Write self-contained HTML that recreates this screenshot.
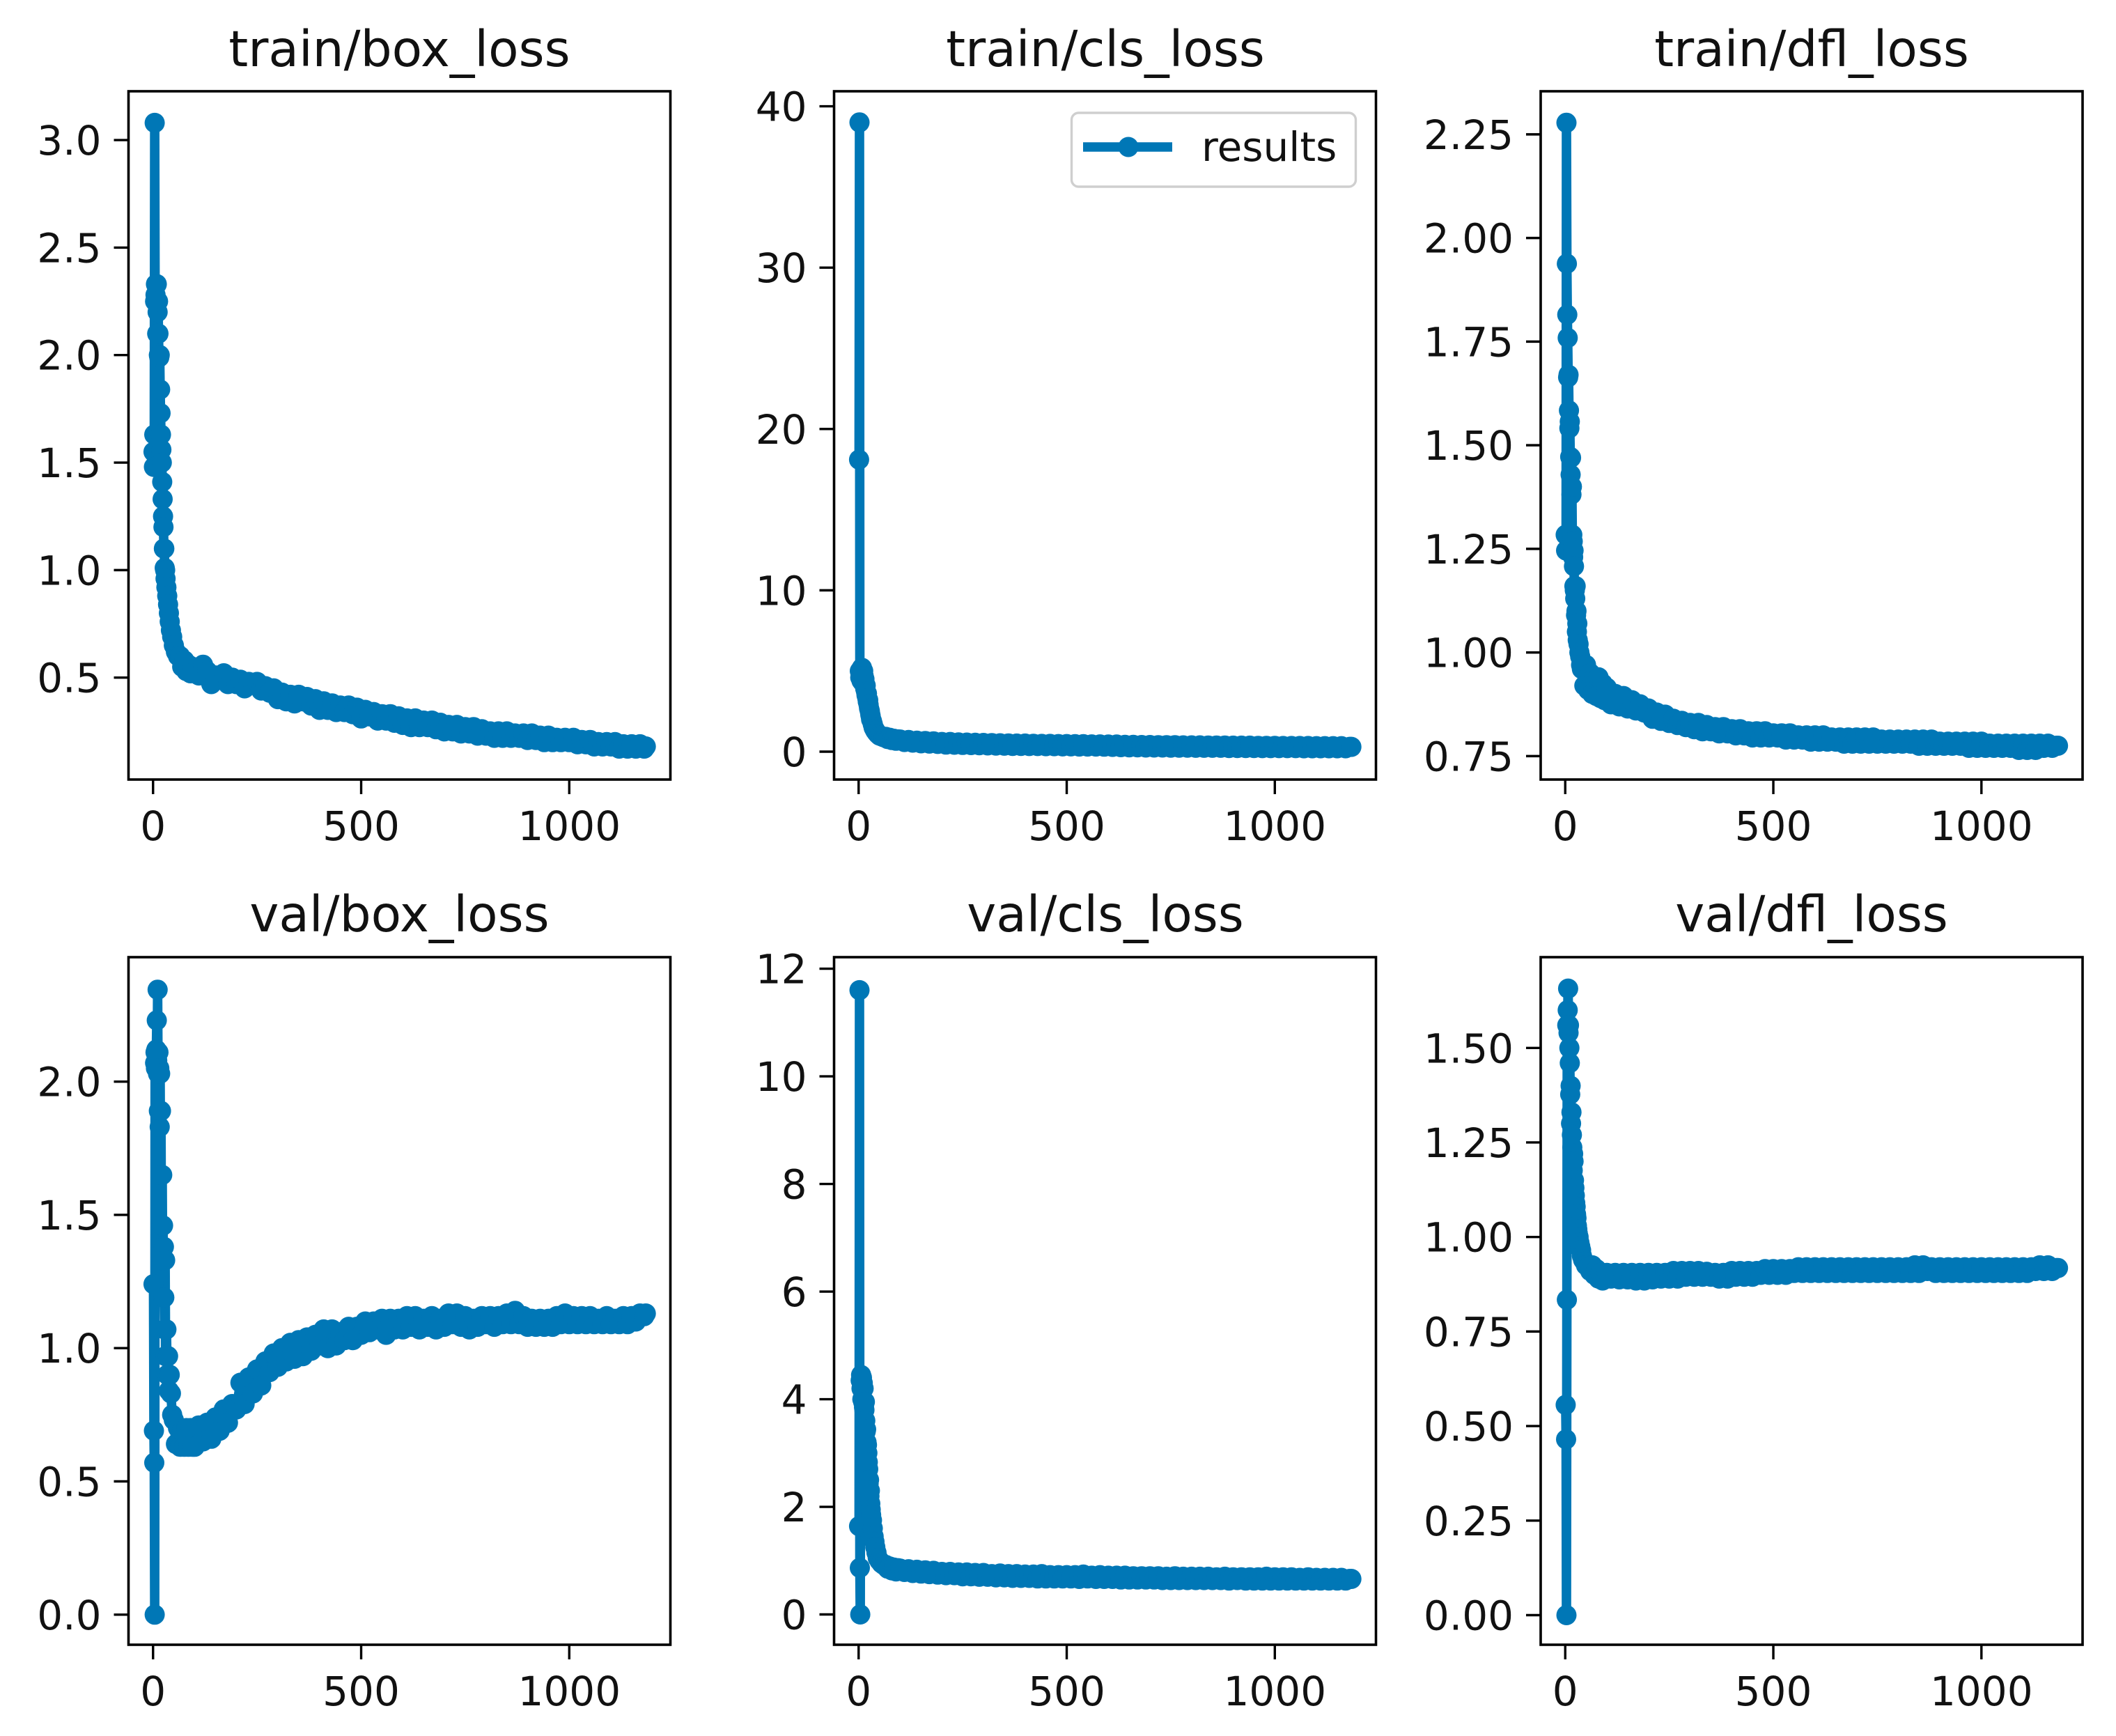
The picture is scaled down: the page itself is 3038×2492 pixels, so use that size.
<!DOCTYPE html>
<html lang="en">
<head>
<meta charset="utf-8">
<title>Training results</title>
<style>
  html, body { margin: 0; padding: 0; background: #fff; }
  svg { display: block; }
  text { font-family: "DejaVu Sans", "Liberation Sans", sans-serif; fill: #111; }
  .title { font-size: 71px; text-anchor: middle; }
  .tick-label { font-size: 58px; }
</style>
</head>
<body>
<svg id="figure" xmlns="http://www.w3.org/2000/svg" width="3038" height="2492" viewBox="0 0 3038 2492">
  <rect x="0" y="0" width="3038" height="2492" fill="#fff"/>
  <g id="train-box"><text class="title" x="573.5" y="95">train/box_loss</text></g>
  <g id="train-cls"><text class="title" x="1587" y="95">train/cls_loss</text></g>
  <g id="train-dfl"><text class="title" x="2601" y="95">train/dfl_loss</text></g>
  <g id="val-box"><text class="title" x="573.5" y="1337">val/box_loss</text></g>
  <g id="val-cls"><text class="title" x="1587" y="1337">val/cls_loss</text></g>
  <g id="val-dfl"><text class="title" x="2601" y="1337">val/dfl_loss</text></g>
  <g id="legend">
    <rect x="1538.5" y="162" width="408" height="106" rx="10" ry="10" fill="#fff" stroke="#cfcfcf" stroke-width="3.4"/>
    <line x1="1555" y1="211" x2="1683" y2="211" stroke="#0077b6" stroke-width="13.6"/>
    <circle cx="1620" cy="211" r="14.5" fill="#0077b6"/>
    <text class="tick-label" x="1725" y="231">results</text>
  </g>
</svg>
<script>
const epochs = [1,2,3,4,5,6,7,8,9,10,11,12,13,14,15,16,17,18,19,20,21,22,23,24,25,26,27,28,29,30,
  32,34,36,38,40,43,46,50,55,60,65,70,75,80,85,90,95,
  100,110,120,130,140,150,160,170,180,190,
  200,210,220,230,240,250,260,270,280,290,
  300,310,320,330,340,350,360,370,380,390,
  400,410,420,430,440,450,460,470,480,490,
  500,510,520,530,540,550,560,570,580,590,
  600,610,620,630,640,650,660,670,680,690,
  700,710,720,730,740,750,760,770,780,790,
  800,810,820,830,840,850,860,870,880,890,
  900,910,920,930,940,950,960,970,980,990,
  1000,1010,1020,1030,1040,1050,1060,1070,1080,1090,
  1100,1110,1120,1130,1140,1150,1160,1170,1180,1184];

const trainBoxLoss = [1.55,1.48,1.63,3.08,2.25,2.28,2.33,2.25,2.33,2.10,2.20,2.25,2.10,2.00,1.99,2.00,1.84,1.73,1.63,1.56,1.50,1.41,1.33,1.25,1.20,1.10,1.10,1.01,1.00,0.96,
  .92,.88,.84,.80,.76,.72,.69,.65,.62,.60,.60,.55,.58,.53,.56,.52,.55,
  .53,.51,.56,.53,.47,.51,.49,.52,.47,.50,
  .47,.49,.45,.48,.47,.48,.44,.46,.43,.45,
  .40,.43,.39,.42,.38,.42,.39,.41,.37,.40,
  .35,.39,.35,.38,.34,.37,.34,.37,.33,.36,
  .31,.35,.32,.34,.30,.33,.30,.33,.29,.32,
  .28,.31,.27,.31,.27,.30,.27,.30,.26,.29,
  .25,.28,.25,.28,.24,.27,.24,.27,.23,.26,
  .23,.25,.22,.25,.22,.25,.22,.24,.22,.24,
  .21,.24,.21,.23,.20,.23,.20,.22,.20,.22,
  .20,.22,.19,.21,.19,.21,.18,.20,.18,.20,
  .18,.20,.17,.19,.17,.19,.17,.19,.17,.18];

const trainClsLoss = [18.1,39,5.0,4.6,4.8,5.1,4.4,5.2,4.9,4.3,5.0,4.7,4.3,4.5,4.2,3.9,4.1,3.7,3.5,3.6,3.3,3.1,3.2,2.9,2.7,2.6,2.5,2.3,2.2,2.0,
  1.9,1.7,1.5,1.4,1.3,1.2,1.1,1.0,.95,.9,.92,.78,.86,.72,.80,.68,.76,
  .75,.60,.72,.56,.68,.52,.66,.50,.64,.48,
  .60,.44,.60,.43,.57,.42,.56,.41,.55,.40,
  .54,.39,.53,.38,.52,.37,.51,.36,.50,.36,
  .50,.35,.49,.35,.48,.34,.48,.34,.47,.33,
  .47,.33,.46,.32,.46,.32,.45,.32,.45,.31,
  .44,.30,.44,.28,.42,.27,.42,.27,.41,.26,
  .41,.26,.40,.26,.40,.25,.40,.25,.39,.25,
  .39,.24,.39,.24,.38,.24,.38,.24,.38,.23,
  .37,.23,.37,.23,.37,.23,.36,.22,.36,.22,
  .36,.22,.35,.22,.35,.22,.35,.21,.35,.21,
  .34,.21,.34,.21,.34,.21,.34,.21,.30,.30];

const trainDflLoss = [1.284,1.246,2.278,1.938,1.815,1.759,1.664,1.67,1.584,1.541,1.557,1.472,1.429,1.47,1.381,1.4,1.284,1.268,1.23,1.246,1.208,1.16,1.15,1.13,1.16,1.09,1.1,1.05,1.07,1.03,
  1.02,1.0,.99,.97,.96,.96,.92,.97,.91,.95,.90,.94,.895,.94,.89,.925,.885,
  .915,.875,.90,.87,.895,.865,.885,.86,.875,.855,
  .865,.84,.855,.835,.85,.83,.84,.825,.835,.82,
  .83,.815,.83,.81,.825,.81,.82,.805,.82,.805,
  .815,.80,.815,.80,.81,.795,.81,.795,.81,.795,
  .805,.795,.805,.79,.805,.79,.80,.79,.80,.785,
  .80,.785,.80,.785,.795,.785,.795,.78,.795,.78,
  .795,.78,.795,.78,.795,.78,.79,.78,.79,.78,
  .79,.78,.79,.78,.79,.775,.79,.775,.79,.775,
  .785,.775,.785,.775,.785,.775,.785,.77,.785,.77,
  .785,.77,.78,.77,.78,.77,.78,.77,.78,.765,
  .78,.765,.78,.765,.78,.77,.78,.77,.775,.775];

const valBoxLoss = [1.24,.69,.57,0,2.07,2.11,2.05,2.12,2.23,2.08,2.345,2.03,2.11,1.89,2.05,1.83,2.03,1.65,1.89,1.46,1.38,1.65,1.33,1.46,1.19,1.38,1.19,1.07,1.33,.97,
  1.07,.9,.97,.84,.9,.83,.75,.73,.64,.70,.63,.69,.63,.70,.63,.70,.63,
  .63,.71,.65,.72,.66,.74,.69,.77,.72,.79,
  .77,.87,.79,.89,.83,.92,.86,.95,.91,.98,
  .93,1.00,.95,1.02,.96,1.03,.97,1.04,.99,1.05,
  1.01,1.07,1.00,1.07,1.01,1.06,1.03,1.08,1.03,1.08,
  1.05,1.10,1.06,1.10,1.07,1.11,1.05,1.11,1.07,1.11,
  1.07,1.12,1.08,1.12,1.07,1.11,1.08,1.12,1.07,1.11,
  1.08,1.13,1.09,1.13,1.08,1.12,1.07,1.11,1.08,1.12,
  1.09,1.12,1.08,1.12,1.09,1.13,1.09,1.14,1.09,1.12,
  1.08,1.11,1.08,1.11,1.08,1.11,1.08,1.12,1.09,1.13,
  1.09,1.12,1.09,1.12,1.09,1.12,1.09,1.11,1.09,1.12,
  1.09,1.11,1.09,1.12,1.09,1.12,1.10,1.13,1.12,1.13];

const valClsLoss = [1.64,11.6,.866,0,4.35,4.45,4.2,4.4,4.0,4.3,3.95,4.2,3.85,3.8,3.95,3.6,3.4,3.44,3.2,3.15,3.0,2.83,2.7,2.43,2.5,2.2,2.3,2.06,1.95,1.85,
  1.75,1.6,1.45,1.35,1.25,1.15,1.05,1.0,.95,.92,.92,.85,.89,.82,.87,.80,.86,
  .85,.79,.84,.77,.83,.76,.82,.75,.81,.74,
  .79,.73,.79,.73,.78,.71,.78,.71,.77,.70,
  .77,.70,.75,.69,.76,.69,.75,.68,.75,.68,
  .74,.68,.74,.67,.75,.67,.73,.67,.73,.67,
  .73,.67,.73,.66,.74,.67,.72,.66,.73,.66,
  .72,.66,.72,.65,.72,.65,.71,.65,.71,.65,
  .71,.65,.71,.64,.70,.64,.71,.64,.70,.64,
  .70,.64,.70,.64,.70,.64,.69,.64,.70,.63,
  .69,.64,.69,.63,.69,.63,.69,.63,.70,.63,
  .69,.63,.69,.63,.69,.63,.68,.63,.69,.63,
  .68,.63,.68,.63,.68,.63,.68,.63,.66,.66];

const valDflLoss = [.556,.465,0,.834,1.56,1.60,1.657,1.54,1.56,1.50,1.46,1.377,1.40,1.30,1.33,1.27,1.237,1.176,1.22,1.20,1.15,1.13,1.11,1.09,1.08,1.06,1.05,1.03,1.02,1.01,
  1.0,.985,.975,.965,.95,.94,.935,.925,.92,.91,.925,.90,.915,.89,.905,.885,.90,
  .905,.89,.905,.888,.905,.888,.905,.885,.905,.885,
  .905,.888,.905,.89,.905,.89,.91,.89,.91,.895,
  .91,.895,.91,.895,.908,.895,.905,.89,.905,.89,
  .91,.895,.91,.895,.91,.895,.91,.90,.915,.90,
  .915,.90,.915,.90,.915,.905,.92,.905,.92,.905,
  .92,.905,.92,.905,.92,.905,.92,.905,.92,.905,
  .92,.905,.92,.905,.92,.905,.92,.905,.92,.905,
  .92,.905,.92,.905,.925,.905,.925,.91,.92,.905,
  .92,.905,.92,.905,.92,.905,.92,.905,.92,.905,
  .92,.905,.92,.905,.92,.905,.92,.905,.92,.905,
  .92,.905,.92,.91,.925,.91,.925,.91,.918,.918];

const xTickLabels = ["0","500","1000"];
const trainBoxTicks = ["3.0","2.5","2.0","1.5","1.0","0.5"];
const trainClsTicks = ["40","30","20","10","0"];
const trainDflTicks = ["2.25","2.00","1.75","1.50","1.25","1.00","0.75"];
const valBoxTicks = ["2.0","1.5","1.0","0.5","0.0"];
const valClsTicks = ["12","10","8","6","4","2","0"];
const valDflTicks = ["1.50","1.25","1.00","0.75","0.50","0.25","0.00"];

const xDomain = [-59, 1243];
const trainBoxDomain = [0.026, 3.227];
const trainClsDomain = [-1.727, 40.93];
const trainDflDomain = [0.6935, 2.354];
const valBoxDomain = [-0.113, 2.467];
const valClsDomain = [-0.563, 12.214];
const valDflDomain = [-0.0783, 1.740];

const NS = "http://www.w3.org/2000/svg";
const BLUE = "#0077b6";
const AX_W = 778;
const panels = [
  { id: "train-box", key: "train-box-loss", values: trainBoxLoss, ticks: trainBoxTicks, domain: trainBoxDomain, left: 184.5, top: 131,  h: 988 },
  { id: "train-cls", key: "train-cls-loss", values: trainClsLoss, ticks: trainClsTicks, domain: trainClsDomain, left: 1197.5, top: 131,  h: 988 },
  { id: "train-dfl", key: "train-dfl-loss", values: trainDflLoss, ticks: trainDflTicks, domain: trainDflDomain, left: 2212, top: 131,  h: 988 },
  { id: "val-box",   key: "val-box-loss",   values: valBoxLoss,   ticks: valBoxTicks,   domain: valBoxDomain,   left: 184.5, top: 1374, h: 987 },
  { id: "val-cls",   key: "val-cls-loss",   values: valClsLoss,   ticks: valClsTicks,   domain: valClsDomain,   left: 1197.5, top: 1374, h: 987 },
  { id: "val-dfl",   key: "val-dfl-loss",   values: valDflLoss,   ticks: valDflTicks,   domain: valDflDomain,   left: 2212, top: 1374, h: 987 }
];

function make(tag, attrs) {
  const el = document.createElementNS(NS, tag);
  for (const k in attrs) el.setAttribute(k, attrs[k]);
  return el;
}
function xScale(p, v) {
  return p.left + (v - xDomain[0]) / (xDomain[1] - xDomain[0]) * AX_W;
}
function yScale(p, v) {
  return p.top + p.h - (v - p.domain[0]) / (p.domain[1] - p.domain[0]) * p.h;
}

panels.forEach(function (p) {
  const g = document.getElementById(p.id);

  const points = p.values.map(function (v, i) {
    return xScale(p, epochs[i]).toFixed(1) + "," + yScale(p, v).toFixed(1);
  }).join(" ");
  const line = make("polyline", { points: points, fill: "none", stroke: BLUE, "stroke-width": 13.6, "stroke-linejoin": "round", "stroke-linecap": "round" });
  
  
  g.appendChild(line);

  p.values.forEach(function (v, i) {
    const c = make("circle", { cx: xScale(p, epochs[i]).toFixed(1), cy: yScale(p, v).toFixed(1), r: 14.5, fill: BLUE });
    
    
    g.appendChild(c);
  });

  const frame = make("rect", { x: p.left, y: p.top, width: AX_W, height: p.h, fill: "none", stroke: "#000", "stroke-width": 3.6 });
  
  
  g.appendChild(frame);

  xTickLabels.forEach(function (label) {
    const x = xScale(p, parseFloat(label));
    const bottom = p.top + p.h;
    const tick = make("line", { x1: x, x2: x, y1: bottom, y2: bottom + 21, stroke: "#000", "stroke-width": 3.4 });
    
    
    g.appendChild(tick);
    const t = make("text", { class: "tick-label", x: x, y: bottom + 87, "text-anchor": "middle" });
    
    
    t.textContent = label;
    g.appendChild(t);
  });

  p.ticks.forEach(function (label) {
    const y = yScale(p, parseFloat(label));
    const tick = make("line", { x1: p.left - 21, x2: p.left, y1: y, y2: y, stroke: "#000", "stroke-width": 3.4 });
    
    
    g.appendChild(tick);
    const t = make("text", { class: "tick-label", x: p.left - 39, y: y + 21, "text-anchor": "end" });
    
    
    t.textContent = label;
    g.appendChild(t);
  });
});

// keep the legend above the train/cls_loss panel
document.getElementById("figure").appendChild(document.getElementById("legend"));
</script>
</body>
</html>
